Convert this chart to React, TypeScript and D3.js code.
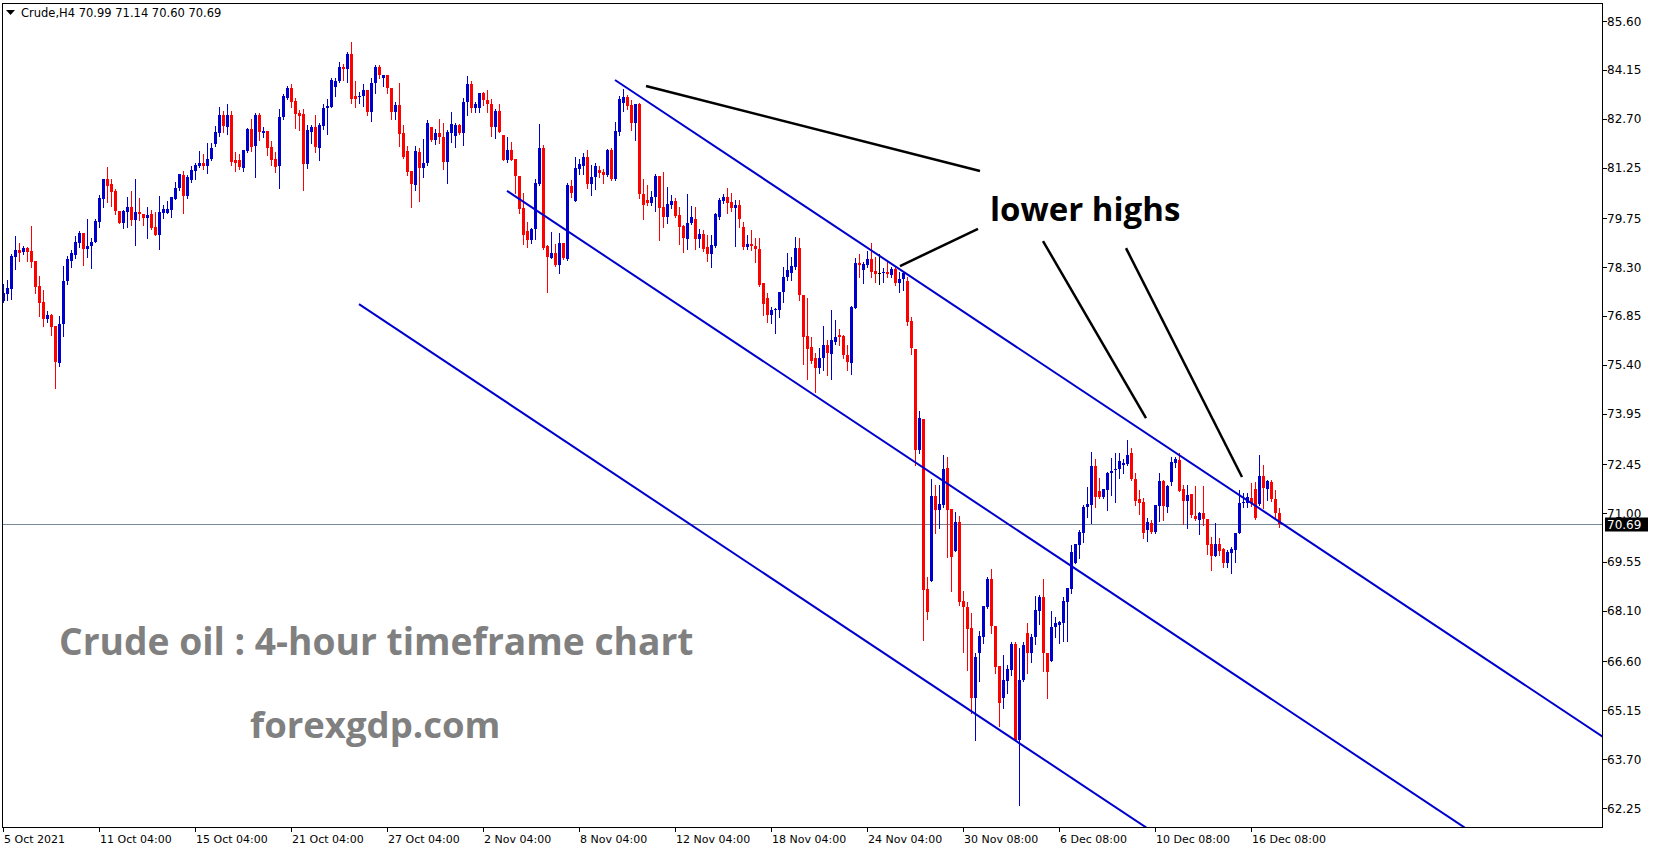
import React from "react";
import * as d3 from "d3";

// Crude H4 candles, 5 Oct 2021 04:00 onward
const opens = [
  77.30, 77.50, 77.66, 78.60, 78.80, 78.75, 78.87, 78.77, 78.48, 77.73, 77.26, 76.75, 76.87, 76.56, 75.46, 76.61, 77.88, 78.48, 78.66, 79.00,
  79.30, 78.84, 78.92, 79.04, 79.65, 80.33, 80.91, 80.76, 80.55, 79.96, 79.61, 79.94, 80.09, 79.69, 79.94, 79.87, 79.75, 79.87, 79.49, 79.25,
  79.91, 79.91, 79.99, 80.32, 80.65, 81.03, 80.41, 80.88, 81.16, 81.31, 81.40, 81.31, 81.50, 81.95, 82.28, 82.81, 82.46, 82.81, 81.48, 81.48,
  81.25, 81.74, 82.40, 81.90, 82.81, 82.28, 82.34, 81.85, 81.50, 81.31, 82.76, 83.33, 83.62, 83.23, 82.86, 82.84, 81.36, 82.32, 82.45, 81.84,
  82.49, 83.01, 83.06, 83.65, 83.83, 84.24, 84.19, 84.62, 83.36, 83.34, 83.37, 83.55, 82.91, 83.77, 84.25, 83.90, 84.00, 83.60, 82.91, 83.11,
  82.28, 81.74, 81.15, 80.73, 81.70, 81.25, 81.38, 82.46, 82.07, 82.27, 82.17, 81.43, 82.27, 82.20, 82.51, 82.29, 83.19, 83.73, 83.03, 83.01,
  83.45, 83.25, 83.13, 82.46, 82.93, 82.22, 81.48, 81.77, 81.50, 81.00, 80.06, 79.37, 79.10, 79.43, 80.76, 81.84, 78.92, 78.58, 78.73, 78.36,
  79.02, 78.54, 80.70, 80.27, 81.20, 81.31, 81.57, 80.76, 80.96, 81.18, 81.13, 81.03, 81.77, 80.90, 82.31, 83.16, 83.35, 83.11, 82.58, 83.13,
  80.46, 80.29, 80.19, 80.37, 81.00, 80.09, 79.77, 80.14, 80.27, 79.84, 79.52, 79.12, 79.62, 79.72, 79.13, 79.28, 78.90, 78.70, 78.93, 79.77,
  80.27, 80.39, 80.24, 80.04, 80.14, 79.50, 78.88, 78.98, 78.92, 78.85, 77.82, 77.37, 76.88, 77.02, 77.04, 77.57, 77.99, 78.13, 78.29, 78.87,
  77.47, 76.26, 75.92, 75.59, 75.29, 75.59, 75.98, 75.72, 76.08, 76.28, 76.25, 75.69, 75.46, 77.09, 78.43, 78.21, 78.36, 78.54, 78.19, 78.13,
  78.11, 78.16, 78.06, 78.23, 77.84, 77.96, 77.89, 76.70, 75.87, 72.87, 73.79, 68.75, 68.99, 71.51, 71.09, 71.24, 72.33, 71.12, 69.88, 70.74,
  68.39, 68.20, 67.60, 65.52, 66.86, 67.33, 68.22, 69.04, 67.65, 66.46, 65.50, 66.03, 66.34, 67.11, 64.26, 66.05, 67.45, 66.86, 67.31, 68.10,
  68.52, 66.86, 66.62, 67.61, 67.68, 67.75, 68.37, 68.75, 69.51, 70.05, 70.42, 71.17, 71.24, 72.40, 71.65, 71.49, 71.68, 72.20, 72.28, 72.30,
  72.42, 72.45, 72.77, 72.00, 71.41, 71.34, 70.50, 70.71, 70.45, 71.22, 71.95, 71.19, 71.93, 72.49, 72.57, 71.70, 71.37, 71.56, 70.91, 70.79,
  70.99, 70.81, 70.08, 69.73, 70.08, 69.92, 69.53, 69.82, 69.90, 70.42, 71.29, 71.31, 71.44, 71.70, 71.27, 72.10, 71.70, 71.93, 71.41, 70.99,
];

const highs = [
  77.81, 77.91, 78.68, 79.22, 79.00, 78.92, 78.88, 79.52, 78.48, 78.03, 77.62, 76.99, 76.92, 76.56, 76.84, 78.33, 78.62, 78.80, 79.22, 79.38,
  79.32, 79.72, 79.15, 79.74, 80.43, 80.91, 81.28, 80.91, 80.61, 79.96, 79.99, 80.39, 80.55, 80.91, 80.36, 79.87, 80.09, 79.99, 79.93, 80.40,
  80.14, 80.26, 80.39, 80.81, 81.07, 81.15, 81.03, 81.30, 81.38, 81.74, 81.65, 81.99, 81.99, 82.49, 83.06, 82.93, 83.14, 82.93, 81.72, 81.65,
  81.77, 82.44, 82.69, 82.86, 82.86, 82.46, 82.34, 82.04, 81.72, 82.99, 83.42, 83.67, 83.73, 83.33, 82.96, 82.99, 82.51, 82.51, 82.81, 82.56,
  83.13, 83.29, 83.92, 83.90, 84.37, 84.32, 84.69, 84.99, 83.82, 83.50, 83.72, 83.55, 83.92, 84.30, 84.30, 84.00, 84.00, 83.60, 83.19, 83.75,
  82.51, 81.90, 81.15, 81.90, 81.82, 82.10, 82.66, 82.46, 82.40, 82.69, 82.56, 82.37, 82.91, 82.58, 82.53, 83.33, 83.97, 83.82, 83.21, 83.45,
  83.50, 83.55, 83.28, 82.98, 83.13, 82.22, 82.17, 82.02, 81.50, 81.00, 80.49, 79.65, 79.45, 80.91, 82.53, 81.92, 78.95, 79.35, 78.98, 79.30,
  79.02, 80.78, 80.88, 81.57, 81.50, 81.69, 81.77, 81.33, 81.38, 81.30, 81.20, 81.80, 81.82, 82.59, 83.38, 83.58, 83.40, 83.25, 83.14, 83.16,
  80.91, 80.73, 80.56, 81.05, 81.00, 81.13, 80.68, 80.44, 80.34, 80.09, 79.55, 80.47, 80.11, 80.09, 79.42, 79.40, 79.25, 79.25, 79.91, 80.36,
  80.47, 80.66, 80.49, 80.29, 80.29, 79.65, 79.25, 79.40, 79.15, 79.15, 77.82, 77.52, 77.12, 77.07, 77.57, 78.31, 78.71, 78.59, 79.20, 79.15,
  77.47, 77.37, 76.21, 75.74, 75.89, 76.55, 76.13, 77.02, 76.73, 76.45, 76.28, 75.98, 77.14, 78.56, 78.69, 78.46, 78.79, 79.00, 78.61, 78.69,
  78.26, 78.46, 78.31, 78.31, 78.16, 78.16, 78.01, 76.81, 75.87, 74.03, 73.79, 69.11, 72.00, 71.83, 71.83, 72.72, 72.65, 71.12, 71.04, 70.91,
  68.69, 68.35, 68.04, 66.86, 67.51, 68.24, 69.11, 69.33, 67.65, 66.46, 66.79, 66.49, 67.18, 67.18, 66.99, 67.18, 67.75, 67.41, 68.54, 68.57,
  69.04, 66.86, 68.09, 67.92, 67.81, 68.52, 68.77, 70.05, 70.07, 70.50, 71.24, 71.76, 72.82, 72.59, 72.03, 71.70, 72.23, 72.62, 72.79, 72.79,
  72.59, 73.17, 72.92, 72.18, 71.68, 71.44, 70.84, 70.79, 71.24, 72.18, 71.98, 71.83, 72.67, 72.67, 72.77, 71.83, 71.83, 71.56, 71.80, 71.04,
  71.80, 70.81, 70.28, 70.71, 70.25, 69.95, 69.90, 70.00, 70.42, 71.68, 71.59, 71.61, 71.88, 71.93, 72.72, 72.42, 71.98, 71.98, 71.68, 71.14,
];

const lows = [
  77.27, 77.32, 77.35, 78.25, 78.49, 78.68, 78.49, 78.29, 77.52, 76.85, 76.56, 76.66, 76.28, 74.72, 75.37, 76.26, 77.81, 78.31, 78.58, 78.88,
  78.36, 78.60, 78.28, 79.04, 79.48, 80.07, 80.24, 80.12, 79.86, 79.61, 79.47, 79.49, 79.54, 78.95, 79.69, 79.54, 79.17, 79.43, 79.25, 78.84,
  79.76, 79.91, 79.79, 80.32, 80.58, 79.89, 80.36, 80.83, 80.91, 81.28, 81.21, 81.10, 81.48, 81.90, 82.20, 82.32, 82.25, 81.33, 81.16, 81.21,
  81.15, 81.70, 81.74, 80.98, 82.07, 82.17, 81.62, 81.33, 81.13, 80.65, 82.69, 83.29, 83.04, 82.43, 82.37, 80.59, 81.25, 81.97, 81.70, 81.48,
  82.39, 82.25, 83.06, 83.37, 83.78, 83.85, 83.78, 83.16, 83.06, 83.18, 83.08, 82.81, 82.63, 83.45, 83.92, 83.68, 83.45, 82.69, 82.69, 81.90,
  81.55, 81.03, 80.09, 80.58, 80.27, 80.98, 81.33, 82.05, 81.95, 81.97, 81.21, 80.80, 82.02, 81.87, 82.24, 81.92, 82.81, 82.91, 82.91, 82.91,
  83.11, 82.91, 82.20, 82.14, 82.30, 81.48, 81.43, 81.48, 80.49, 79.89, 78.98, 78.90, 79.00, 79.13, 80.73, 78.83, 77.57, 78.56, 78.34, 78.11,
  78.54, 78.51, 80.39, 80.27, 81.06, 81.06, 80.66, 80.44, 80.63, 80.96, 80.80, 81.01, 80.88, 80.88, 82.22, 82.94, 82.98, 82.36, 82.07, 80.34,
  79.72, 80.14, 80.14, 79.97, 79.10, 79.50, 79.62, 80.04, 79.79, 78.98, 78.76, 78.85, 79.57, 78.85, 78.90, 78.79, 78.48, 78.31, 78.90, 79.74,
  80.19, 79.89, 79.97, 78.93, 79.50, 78.85, 78.85, 78.80, 78.46, 77.74, 76.88, 76.68, 76.65, 76.33, 76.83, 77.27, 77.93, 77.91, 78.23, 77.32,
  75.42, 74.99, 75.44, 74.60, 75.16, 75.24, 75.10, 74.99, 76.03, 75.98, 75.59, 75.24, 75.13, 77.07, 78.01, 77.84, 78.31, 78.01, 77.86, 77.81,
  77.86, 78.01, 78.01, 77.77, 77.57, 77.62, 76.58, 75.72, 72.42, 72.79, 67.23, 67.87, 68.99, 70.42, 70.55, 71.19, 69.70, 68.70, 69.88, 68.27,
  66.89, 66.34, 65.08, 64.26, 66.03, 67.15, 68.17, 67.45, 66.26, 64.68, 65.23, 65.65, 66.19, 64.26, 62.34, 66.03, 66.26, 66.59, 67.13, 67.71,
  66.32, 65.50, 66.62, 67.31, 67.15, 67.21, 67.21, 68.64, 69.51, 69.66, 70.15, 70.87, 70.71, 71.19, 71.44, 71.46, 71.09, 71.54, 71.34, 72.03,
  72.18, 72.42, 71.98, 71.24, 70.97, 70.25, 70.18, 70.42, 70.40, 70.77, 70.79, 71.04, 71.83, 72.38, 71.66, 70.69, 70.55, 70.89, 70.79, 70.38,
  70.64, 69.78, 69.31, 69.73, 69.75, 69.39, 69.41, 69.21, 69.56, 70.40, 71.17, 71.19, 71.21, 70.81, 71.24, 71.14, 71.39, 71.37, 70.84, 70.60,
];

const closes = [
  77.52, 77.67, 78.62, 78.80, 78.72, 78.87, 78.75, 78.46, 77.72, 77.24, 76.77, 76.87, 76.53, 75.49, 76.61, 77.88, 78.54, 78.71, 79.04, 79.30,
  78.84, 78.92, 79.04, 79.67, 80.36, 80.91, 80.71, 80.53, 79.96, 79.61, 79.96, 80.09, 79.69, 79.94, 79.87, 79.75, 79.84, 79.47, 79.25, 79.93,
  80.01, 80.01, 80.39, 80.66, 81.05, 80.41, 80.97, 81.18, 81.33, 81.40, 81.31, 81.50, 81.84, 82.30, 82.81, 82.49, 82.81, 81.43, 81.38, 81.26,
  81.77, 82.40, 81.87, 82.81, 82.32, 82.34, 81.84, 81.48, 81.28, 82.76, 83.37, 83.62, 83.21, 82.84, 82.79, 81.36, 82.37, 82.45, 81.87, 82.51,
  83.03, 83.08, 83.85, 83.82, 84.23, 84.18, 84.62, 83.29, 83.29, 83.38, 83.55, 82.89, 83.77, 84.25, 84.00, 84.00, 83.60, 82.91, 83.11, 82.25,
  81.57, 81.13, 80.76, 81.74, 81.25, 81.40, 82.56, 82.07, 82.27, 82.17, 81.43, 82.30, 82.53, 82.51, 82.29, 83.21, 83.73, 83.03, 83.13, 83.45,
  83.25, 83.13, 82.46, 82.93, 82.32, 81.48, 81.77, 81.48, 81.00, 80.02, 79.25, 79.10, 79.43, 80.78, 81.84, 78.87, 78.61, 78.73, 78.36, 79.00,
  78.56, 80.73, 80.50, 81.25, 81.36, 81.57, 80.76, 80.98, 81.30, 81.10, 81.03, 81.77, 80.90, 82.33, 83.28, 83.35, 83.09, 82.56, 83.13, 80.46,
  80.14, 80.21, 80.39, 81.01, 80.06, 79.77, 80.17, 80.27, 79.82, 79.50, 79.15, 79.62, 79.79, 79.13, 79.28, 78.85, 78.70, 78.95, 79.87, 80.29,
  80.39, 80.21, 80.06, 80.14, 79.74, 78.88, 78.98, 78.92, 78.85, 77.77, 77.20, 76.88, 77.04, 77.06, 77.57, 77.99, 78.21, 78.33, 78.87, 77.47,
  76.23, 75.86, 75.52, 75.29, 75.61, 75.98, 75.74, 76.15, 76.23, 76.21, 75.69, 75.49, 77.12, 78.43, 78.36, 78.39, 78.54, 78.16, 78.09, 78.13,
  78.16, 78.08, 78.23, 77.82, 77.96, 78.11, 76.68, 75.89, 72.87, 73.81, 68.72, 68.07, 71.51, 71.09, 71.27, 72.30, 71.09, 69.69, 70.74, 68.37,
  68.20, 67.56, 65.52, 66.72, 67.35, 68.24, 69.04, 67.65, 66.42, 65.37, 66.04, 66.36, 67.11, 64.28, 66.05, 67.08, 66.86, 67.31, 68.12, 68.52,
  66.86, 66.29, 67.63, 67.73, 67.78, 68.40, 68.77, 69.85, 70.07, 70.45, 71.19, 71.27, 72.40, 71.49, 71.49, 71.70, 72.20, 72.26, 72.30, 72.54,
  72.49, 72.72, 72.00, 71.37, 71.31, 70.40, 70.74, 70.45, 71.24, 71.95, 71.21, 71.80, 72.52, 72.59, 71.66, 71.37, 71.54, 70.94, 70.81, 70.99,
  70.81, 70.05, 69.73, 70.08, 69.88, 69.53, 69.85, 69.92, 70.42, 71.31, 71.34, 71.49, 71.31, 70.84, 72.10, 71.73, 71.96, 71.41, 70.99, 70.69,
];

const priceTicks = [85.6, 84.15, 82.7, 81.25, 79.75, 78.3, 76.85, 75.4, 73.95, 72.45, 71.0, 69.55, 68.1, 66.6, 65.15, 63.7, 62.25];

const timeTickBars = [0, 24, 48, 72, 96, 120, 144, 168, 192, 216, 240, 264, 288, 312];
const timeTickLabels = [
  "5 Oct 2021", "11 Oct 04:00", "15 Oct 04:00", "21 Oct 04:00", "27 Oct 04:00", "2 Nov 04:00", "8 Nov 04:00",
  "12 Nov 04:00", "18 Nov 04:00", "24 Nov 04:00", "30 Nov 08:00", "6 Dec 08:00", "10 Dec 08:00", "16 Dec 08:00",
];

const lastPrice = 70.69;

// channel lines: [bar, price] anchors, drawn as rays clipped by the frame
const channelLines: [number, number][][] = [
  [[153, 83.85], [400, 64.36]],
  [[126, 80.56], [400, 58.94]],
  [[89, 77.2], [400, 52.66]],
];

// black pointer lines of the "lower highs" note
const pointerLines: [number, number][][] = [
  [[160.75, 83.67], [244.25, 81.15]],
  [[224.25, 78.33], [243.75, 79.43]],
  [[260, 79.07], [285.75, 73.82]],
  [[280.75, 78.86], [309.75, 72.07]],
];

const W = 1653;
const H = 850;
const frame = { left: 2, top: 3, right: 1603, bottom: 827 };
const UP = "#0000CD";
const DOWN = "#FF0000";
const AXIS_FONT = "'DejaVu Sans', Tahoma, sans-serif";

export default function App() {
  const x = d3.scaleLinear().domain([0, 319]).range([3, 1279]);
  const y = d3.scaleLinear().domain([62.25, 85.6]).range([808, 21]);
  const seg = d3.line<[number, number]>().x((d) => x(d[0])).y((d) => y(d[1]));

  const candles = closes.map((c, i) => {
    const o = opens[i];
    const cx = Math.round(x(i));
    const top = Math.round(y(Math.max(o, c)));
    const bot = Math.round(y(Math.min(o, c)));
    const color = c > o ? UP : c < o ? DOWN : "#000";
    return (
      <g key={i}>
        <line x1={cx + 0.5} x2={cx + 0.5} y1={Math.round(y(highs[i]))} y2={Math.round(y(lows[i])) + 1} stroke={color} strokeWidth={1} />
        <rect x={cx - 1} y={top} width={3} height={Math.max(1, bot - top)} fill={color} />
      </g>
    );
  });

  const yLast = Math.round(y(lastPrice)) + 0.5;

  return (
    <svg width={W} height={H} style={{ position: "absolute", left: 0, top: 0, background: "#fff" }}>
      <defs>
        <clipPath id="plot">
          <rect x={frame.left} y={frame.top} width={frame.right - frame.left} height={frame.bottom - frame.top} />
        </clipPath>
      </defs>

      {/* watermark texts */}
      <g fontFamily="'Open Sans', sans-serif" fontWeight={700} fill="#808080">
        <text x={59} y={655} fontSize={37.2}>Crude oil : 4-hour timeframe chart</text>
        <text x={250} y={738} fontSize={36.5}>forexgdp.com</text>
      </g>

      <line x1={frame.left} x2={frame.right} y1={yLast} y2={yLast} stroke="#778899" strokeWidth={1} />

      <g clipPath="url(#plot)">
        {candles}
        {channelLines.map((l, i) => (
          <path key={i} d={seg(l) ?? ""} stroke="#0000CD" strokeWidth={2} fill="none" />
        ))}
        {pointerLines.map((l, i) => (
          <path key={i} d={seg(l) ?? ""} stroke="#000" strokeWidth={2.5} fill="none" />
        ))}
      </g>

      <text x={990} y={221} fontFamily="'Open Sans', sans-serif" fontWeight={700} fontSize={33} fill="#000">
        lower highs
      </text>

      <rect x={frame.left + 0.5} y={frame.top + 0.5} width={frame.right - frame.left - 1} height={frame.bottom - frame.top} fill="none" stroke="#000" strokeWidth={1} />

      {/* price axis */}
      <g fontFamily={AXIS_FONT} fontSize={12} fill="#000">
        {priceTicks.map((v) => (
          <g key={v}>
            <line x1={frame.right} x2={frame.right + 4} y1={Math.round(y(v)) + 0.5} y2={Math.round(y(v)) + 0.5} stroke="#000" />
            <text x={frame.right + 4} y={y(v) + 4.5}>{v.toFixed(2)}</text>
          </g>
        ))}
        <rect x={frame.right + 2} y={yLast - 7} width={43} height={14} fill="#000" />
        <text x={frame.right + 4} y={yLast + 4.5} fill="#fff">{lastPrice.toFixed(2)}</text>
      </g>

      {/* time axis */}
      <g fontFamily={AXIS_FONT} fontSize={11} fill="#000">
        {timeTickBars.map((b, i) => (
          <g key={b}>
            <line x1={Math.round(x(b)) + 0.5} x2={Math.round(x(b)) + 0.5} y1={frame.bottom} y2={frame.bottom + 5} stroke="#000" />
            <text x={Math.round(x(b)) + 1} y={frame.bottom + 16}>{timeTickLabels[i]}</text>
          </g>
        ))}
      </g>

      {/* header */}
      <g fontFamily={AXIS_FONT} fontSize={11.5} fill="#000">
        <path d="M6,10 L15,10 L10.5,15 Z" fill="#000" />
        <text x={21} y={17}>Crude,H4  70.99 71.14 70.60 70.69</text>
      </g>
    </svg>
  );
}
